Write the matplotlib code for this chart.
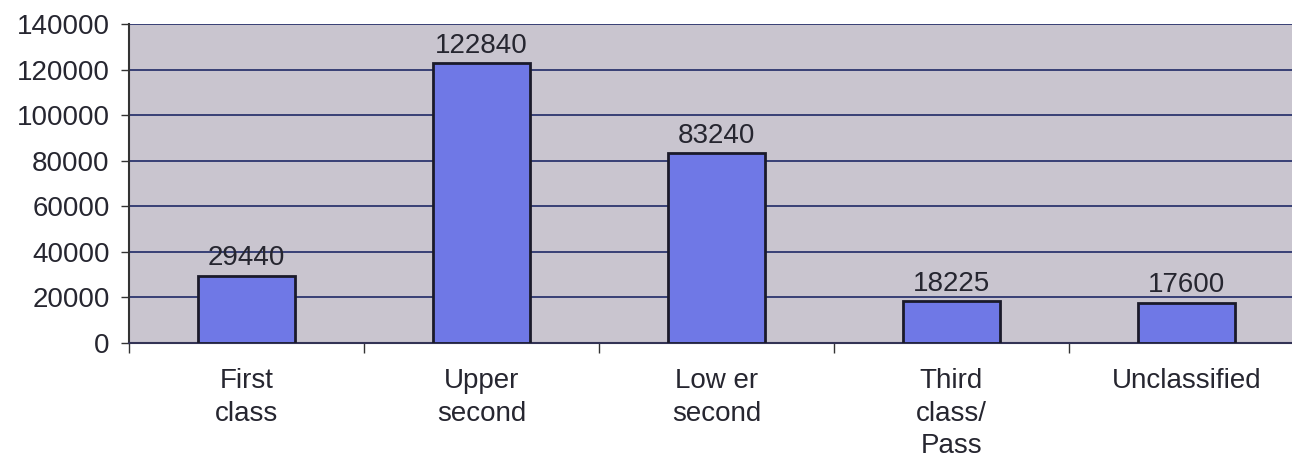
import matplotlib.pyplot as plt
import numpy as np

categories = ["First\nclass", "Upper\nsecond", "Low er\nsecond", "Third\nclass/\nPass", "Unclassified"]
values = [29440, 122840, 83240, 18225, 17600]
y_ticks = [0, 20000, 40000, 60000, 80000, 100000, 120000, 140000]

plt.rcParams['font.family'] = ['Liberation Sans', 'DejaVu Sans']

fig = plt.figure(figsize=(12.92, 4.61), dpi=100)
# plot area runs past the right edge, as in the cropped original
ax = fig.add_axes([129 / 1292, 1 - 343 / 461, 1175 / 1292, 319 / 461])
ax.set_facecolor("#c9c5cf")

x = np.arange(len(values))
ax.bar(x, values, width=0.41, color="#6f78e6", edgecolor="#1a1a2a", linewidth=2, zorder=3)
for xi, v in zip(x, values):
    ax.text(xi, v + 2000, str(v), ha="center", va="bottom", fontsize=20, color="#262630", zorder=4)

ax.set_xlim(-0.5, len(values) - 0.5)
ax.set_ylim(0, 140000)
ax.set_yticks(y_ticks)
ax.set_yticklabels([str(t) for t in y_ticks], fontsize=20, color="#262630")
ax.yaxis.grid(True, color="#1f2a66", linewidth=1.2, zorder=1)
ax.tick_params(axis="y", length=6, width=1, color="#333333", pad=8)

ax.set_xticks(x)
ax.set_xticklabels(categories, fontsize=20, color="#262630", linespacing=1.33, va="top")
ax.tick_params(axis="x", length=0, pad=18)
ax.set_xticks(np.arange(len(values) + 1) - 0.5, minor=True)
ax.tick_params(axis="x", which="minor", length=7, width=1, color="#333333")

for side in ["top", "right"]:
    ax.spines[side].set_visible(False)
ax.spines["left"].set_color("#333333")
ax.spines["left"].set_linewidth(1.5)
ax.spines["bottom"].set_color("#333355")
ax.spines["bottom"].set_linewidth(1.5)

fig.savefig("out.png", dpi=100)
